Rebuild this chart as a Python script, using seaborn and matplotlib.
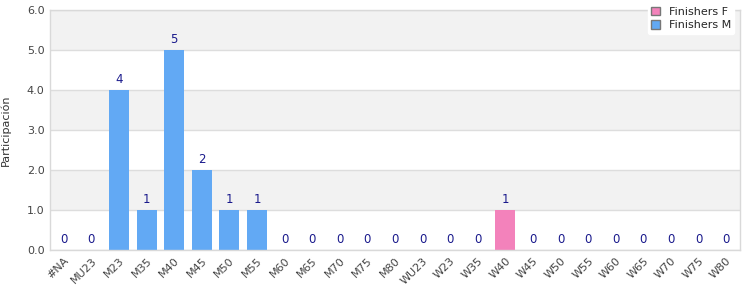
import matplotlib
matplotlib.use("Agg")
import matplotlib.pyplot as plt
import seaborn as sns
import pandas as pd

categories = ["#NA", "MU23", "M23", "M35", "M40", "M45", "M50", "M55", "M60", "M65",
              "M70", "M75", "M80", "WU23", "W23", "W35", "W40", "W45", "W50", "W55",
              "W60", "W65", "W70", "W75", "W80"]
values = [0, 0, 4, 1, 5, 2, 1, 1, 0, 0, 0, 0, 0, 0, 0, 0, 1, 0, 0, 0, 0, 0, 0, 0, 0]
series = ["Finishers M"] * 13 + ["Finishers F"] * 12
series_names = ["Finishers F", "Finishers M"]
colors = {"Finishers F": "#f382bb", "Finishers M": "#62a9f4"}
y_ticks = [0.0, 1.0, 2.0, 3.0, 4.0, 5.0, 6.0]

df = pd.DataFrame({"cat": categories, "val": values, "series": series})

sns.set_style("white")
plt.rcParams['font.family'] = ['DejaVu Sans']

fig = plt.figure(figsize=(7.5, 3.0), dpi=100)
ax = fig.add_axes([50/750, 50/300, 690/750, 240/300])

# alternating bands
for i in range(len(y_ticks) - 1):
    if i % 2 == 1:
        ax.axhspan(y_ticks[i], y_ticks[i+1], color="#f2f2f2", zorder=0, lw=0)

sns.barplot(data=df, x="cat", y="val", hue="series", hue_order=series_names,
            palette=colors, dodge=False, width=0.72, ax=ax, saturation=1,
            order=categories, zorder=2, linewidth=0, edgecolor="none")

ax.set_ylim(0, 6)
ax.set_xlim(-0.5, len(categories) - 0.5)
ax.set_yticks(y_ticks)
ax.set_yticklabels([f"{t:.1f}" for t in y_ticks], fontsize=8, color="#444444")
ax.set_xticks(range(len(categories)))
ax.set_xticklabels(categories, rotation=45, ha="right", rotation_mode="anchor",
                   fontsize=8, color="#444444")
ax.tick_params(axis="both", length=0, pad=4)
ax.set_xlabel("")
ax.set_ylabel("Participación", fontsize=8, color="#333333")
ax.yaxis.set_label_coords(-0.057, 0.5)
for t in y_ticks:
    ax.axhline(t, color="#dddddd", lw=1, zorder=1)
for s in ax.spines.values():
    s.set_color("#d9d9d9")
    s.set_linewidth(1)

for i, v in enumerate(values):
    ax.text(i, v + 0.1, f"{v}", ha="center", va="bottom", fontsize=8.5, color="#1a1a8c", zorder=3)

handles, labels = ax.get_legend_handles_labels()
leg = ax.legend(handles, labels, loc="upper right", bbox_to_anchor=(1.0, 1.05),
                fontsize=8, frameon=True, facecolor="white", edgecolor="white",
                framealpha=1, handlelength=0.8, handleheight=0.8, borderpad=0.3,
                labelspacing=0.3, handletextpad=0.8)
for h in leg.legend_handles:
    h.set_edgecolor("#777777")
    h.set_linewidth(1)
leg.set_zorder(5)

fig.savefig("out.png", dpi=100)
